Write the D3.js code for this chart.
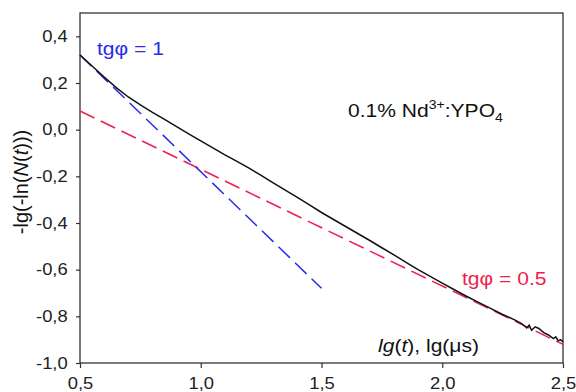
<!DOCTYPE html>
<html>
<head>
<meta charset="utf-8">
<script src="https://cdn.jsdelivr.net/npm/d3@7"></script>
<style>
  body { margin: 0; background: #fff; }
  text { font-family: "Liberation Sans", Arial, sans-serif; }
</style>
</head>
<body>
<div id="svg"></div>
<script>
const lgT = [0.50, 0.55, 0.60, 0.65, 0.70, 0.75, 0.80, 0.85, 0.90, 0.95, 1.00, 1.05, 1.10, 1.15, 1.20, 1.25, 1.30, 1.35, 1.40, 1.45, 1.50,
  1.55, 1.60, 1.65, 1.70, 1.75, 1.80, 1.85, 1.90, 1.95, 2.00, 2.05, 2.10, 2.15, 2.20, 2.25, 2.30, 2.33, 2.35, 2.36, 2.37, 2.385,
  2.40, 2.42, 2.44, 2.46, 2.47, 2.48, 2.49, 2.50]
const lgLnN = [0.320, 0.273, 0.226, 0.180, 0.140, 0.106, 0.074, 0.044, 0.013, -0.018, -0.048, -0.078, -0.108, -0.136, -0.165, -0.196, -0.228,
  -0.259, -0.290, -0.322, -0.355, -0.385, -0.415, -0.445, -0.475, -0.506, -0.537, -0.569, -0.600, -0.629, -0.658, -0.686, -0.714, -0.740,
  -0.766, -0.792, -0.815, -0.832, -0.850, -0.838, -0.860, -0.845, -0.852, -0.870, -0.880, -0.895, -0.888, -0.905, -0.900, -0.910]

// fitted lines (slope tg phi)
const fit1X = [0.5, 1.5]
const fit1Y = [0.32, -0.68]
const fit05X = [0.5, 2.5]
const fit05Y = [0.08, -0.92]

const xTicks = [0.5, 1.0, 1.5, 2.0, 2.5]
const yTicks = [0.4, 0.2, 0.0, -0.2, -0.4, -0.6, -0.8, -1.0]

const blue = '#2b2be6'
const red = '#ec1f4e'

const margin = {top: 13, right: 13, bottom: 29, left: 80}
const width = 576 - margin.left - margin.right
const height = 392 - margin.top - margin.bottom

const fmt = d => d.toFixed(1).replace('.', ',')

const xscale = d3.scaleLinear().domain([0.5, 2.5]).range([0, width])
const yscale = d3.scaleLinear().domain([-1.0, 0.5]).range([height, 0])

const root = d3.select('#svg')
  .append('svg')
    .attr('width', 576)
    .attr('height', 392)

const svg = root.append('g')
  .attr('transform', `translate(${margin.left},${margin.top})`)

// frame
svg.append('rect')
  .attr('width', width)
  .attr('height', height)
  .attr('fill', 'none')
  .attr('stroke', '#333')
  .attr('stroke-width', 1.3)

const bottomAxis = d3.axisBottom(xscale).tickValues(xTicks).tickFormat(fmt).tickSize(5).tickPadding(10)
const leftAxis = d3.axisLeft(yscale).tickValues(yTicks).tickFormat(fmt).tickSize(4).tickPadding(8)

const gx = svg.append('g')
  .attr('transform', `translate(0,${height})`)
  .call(bottomAxis)
const gy = svg.append('g').call(leftAxis)

for (const g of [gx, gy]) {
  g.select('.domain').remove()
  g.selectAll('line').attr('stroke', '#333').attr('stroke-width', 1.2)
  g.selectAll('text')
    .attr('fill', '#222')
    .style('font-size', '16px')
}
gx.selectAll('text').attr('transform', 'scale(1.15,1)')
gy.selectAll('text').attr('transform', 'translate(1.5,0) scale(1.15,1)')

const line = d3.line()
  .x(d => xscale(d[0]))
  .y(d => yscale(d[1]))

// fits
svg.append('path')
  .datum(d3.zip(fit05X, fit05Y))
  .attr('d', line)
  .attr('fill', 'none')
  .attr('stroke', red)
  .attr('stroke-width', 1.5)
  .attr('stroke-dasharray', '16,7')

svg.append('path')
  .datum(d3.zip(fit1X, fit1Y))
  .attr('d', line)
  .attr('fill', 'none')
  .attr('stroke', blue)
  .attr('stroke-width', 1.5)
  .attr('stroke-dasharray', '16,7')

// data
svg.append('path')
  .datum(d3.zip(lgT, lgLnN))
  .attr('d', line)
  .attr('fill', 'none')
  .attr('stroke', '#111')
  .attr('stroke-width', 1.5)

// labels
const label = (x, y, color, size) => root.append('g')
  .attr('transform', `translate(${x},${y}) scale(1.17,1)`)
  .append('text')
    .attr('fill', color)
    .style('font-size', size + 'px')

label(97, 55, blue, 18).text('tgφ = 1')
label(462, 285, red, 18).text('tgφ = 0.5')

const sample = label(348, 117, '#111', 18)
sample.append('tspan').text('0.1% Nd')
sample.append('tspan').attr('dy', -8).style('font-size', '12px').text('3+')
sample.append('tspan').attr('dy', 8).text(':YPO')
sample.append('tspan').attr('dy', 5).style('font-size', '12px').text('4')

const xl = label(378, 352, '#111', 18)
xl.append('tspan').style('font-style', 'italic').text('lg')
xl.append('tspan').text('(')
xl.append('tspan').style('font-style', 'italic').text('t')
xl.append('tspan').text('), lg(μs)')

const yl = root.append('text')
  .attr('transform', 'translate(28,182) rotate(-90)')
  .attr('text-anchor', 'middle')
  .attr('fill', '#111')
  .style('font-size', '20px')
yl.append('tspan').text('-lg(-ln(')
yl.append('tspan').style('font-style', 'italic').text('N')
yl.append('tspan').text('(')
yl.append('tspan').style('font-style', 'italic').text('t')
yl.append('tspan').text(')))')
</script>
</body>
</html>
